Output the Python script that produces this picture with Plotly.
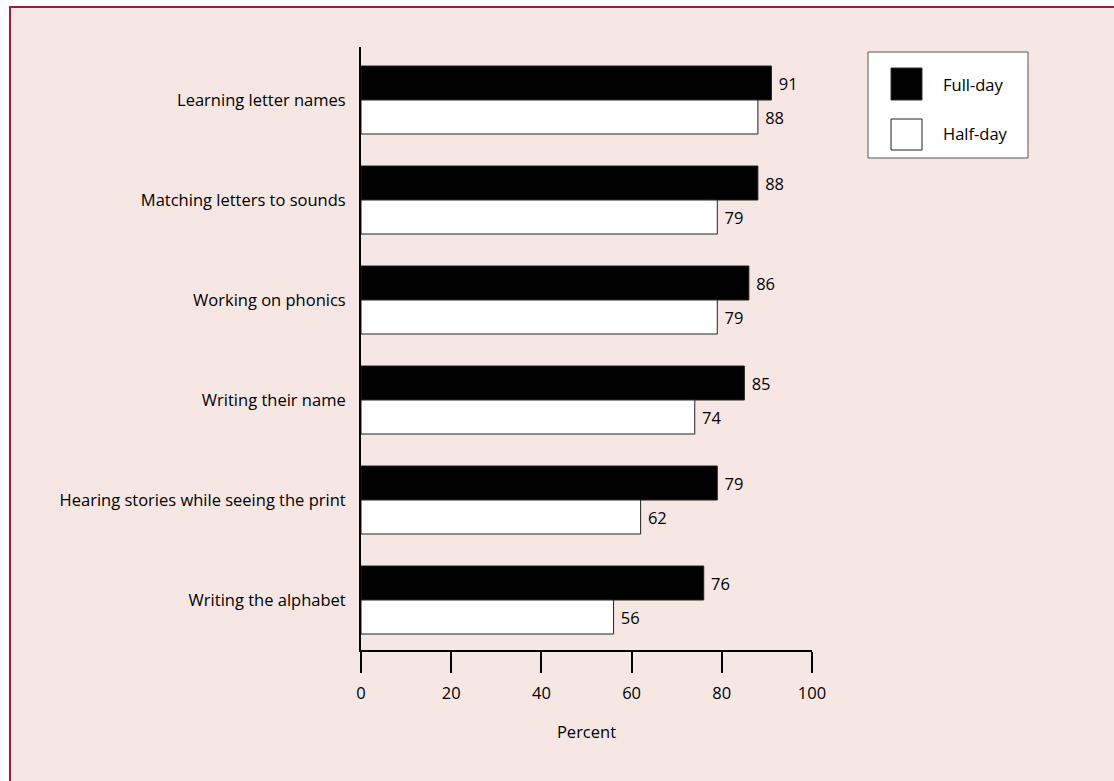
import plotly.graph_objects as go

categories = [
    "Learning letter names",
    "Matching letters to sounds",
    "Working on phonics",
    "Writing their name",
    "Hearing stories while seeing the print",
    "Writing the alphabet",
]
full_day = [91, 88, 86, 85, 79, 76]
half_day = [88, 79, 79, 74, 62, 56]
series_names = ["Full-day", "Half-day"]
x_ticks = [0, 20, 40, 60, 80, 100]

FONT = "Open Sans"
FS = 16.5
W, H = 1114, 781
L, R, T, B = 361, 812, 47, 650  # plot area in pixels


def px(x):
    return (x - L) / (R - L)


def py(y):
    return (B - y) / (B - T)


fig = go.Figure()
fig.add_trace(go.Bar(
    y=categories, x=full_day, name=series_names[0], orientation="h",
    marker=dict(color="black", line=dict(color="#222222", width=1)),
    texttemplate=" %{x}", textposition="outside",
    textfont=dict(family=FONT, size=FS, color="black"),
    cliponaxis=False, showlegend=False,
))
fig.add_trace(go.Bar(
    y=categories, x=half_day, name=series_names[1], orientation="h",
    marker=dict(color="white", line=dict(color="#222222", width=1)),
    texttemplate=" %{x}", textposition="outside",
    textfont=dict(family=FONT, size=FS, color="black"),
    cliponaxis=False, showlegend=False,
))

shapes = [
    # background panel with border (top/left visible)
    dict(type="rect", xref="paper", yref="paper", layer="below",
         x0=px(10), x1=px(1125), y0=py(795), y1=py(7),
         fillcolor="#f6e7e5", line=dict(color="#a5173f", width=2)),
    # legend box
    dict(type="rect", xref="paper", yref="paper",
         x0=px(868), x1=px(1028), y0=py(158), y1=py(52),
         fillcolor="white", line=dict(color="#555555", width=1)),
    dict(type="rect", xref="paper", yref="paper",
         x0=px(891), x1=px(922), y0=py(100), y1=py(68),
         fillcolor="black", line=dict(color="#333333", width=1)),
    dict(type="rect", xref="paper", yref="paper",
         x0=px(891), x1=px(922), y0=py(150), y1=py(119),
         fillcolor="white", line=dict(color="#222222", width=1)),
]
annotations = [
    dict(xref="paper", yref="paper", x=px(941), y=py(84), text=series_names[0],
         showarrow=False, xanchor="left", yanchor="middle",
         font=dict(family=FONT, size=FS, color="black")),
    dict(xref="paper", yref="paper", x=px(941), y=py(133), text=series_names[1],
         showarrow=False, xanchor="left", yanchor="middle",
         font=dict(family=FONT, size=FS, color="black")),
]

fig.update_layout(
    width=W, height=H,
    margin=dict(l=L, r=W - R, t=T, b=H - B, pad=0),
    paper_bgcolor="white",
    plot_bgcolor="rgba(0,0,0,0)",
    barmode="group", bargap=0.32, bargroupgap=0,
    font=dict(family=FONT, size=FS, color="black"),
    shapes=shapes, annotations=annotations,
    xaxis=dict(
        range=[0, 100], tickvals=x_ticks, ticks="outside", ticklen=21,
        tickwidth=2, tickcolor="black", showline=True, linecolor="black",
        linewidth=2, showgrid=False, zeroline=False, ticklabelstandoff=6,
        tickfont=dict(family=FONT, size=FS, color="black"),
        title=dict(text="Percent", standoff=24,
                   font=dict(family=FONT, size=FS, color="black")),
    ),
    yaxis=dict(
        range=[5.5, -0.53], categoryorder="array", categoryarray=categories,
        showline=True, linecolor="black", linewidth=2, ticks="",
        showgrid=False, zeroline=False, ticklabelstandoff=10,
        tickfont=dict(family=FONT, size=FS, color="black"),
    ),
)

fig.write_html("out.html")
